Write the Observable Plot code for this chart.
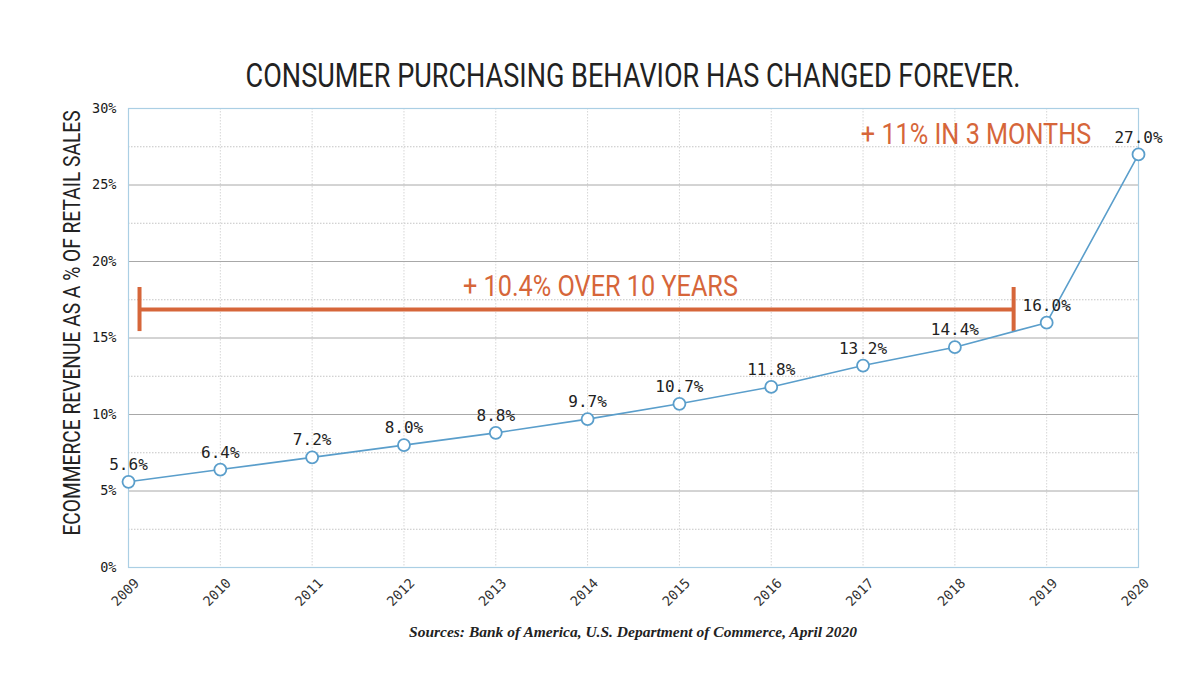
<!DOCTYPE html>
<html>
<head>
<meta charset="utf-8">
<script src="https://cdn.jsdelivr.net/npm/d3@7"></script>
<script src="https://cdn.jsdelivr.net/npm/@observablehq/plot@0.6"></script>
<style>
  html, body { margin: 0; padding: 0; background: #fff; }
  #page { position: relative; width: 1200px; height: 675px; overflow: hidden; }
  #title {
    position: absolute; left: 633px; top: 75px;
    transform: translate(-50%, -50%) scaleX(0.82);
    font-family: Roboto, "Noto Sans", sans-serif; font-size: 33px; color: #222;
    white-space: nowrap; letter-spacing: 0;
  }
  #chart { position: absolute; left: 0; top: 95px; }
  #chart svg { overflow: visible; }
  #caption {
    position: absolute; left: 633px; top: 632px;
    transform: translate(-50%, -50%);
    font-family: "Liberation Serif", "Times New Roman", serif; font-style: italic; font-weight: bold;
    font-size: 15.5px; color: #222; white-space: nowrap;
  }
</style>
</head>
<body>
<div id="page">
  <div id="title">CONSUMER PURCHASING BEHAVIOR HAS CHANGED FOREVER.</div>
  <div id="chart"></div>
  <div id="caption">Sources: Bank of America, U.S. Department of Commerce, April 2020</div>
</div>
<script>
// Ecommerce share of US retail sales, by year
const years = [2009, 2010, 2011, 2012, 2013, 2014, 2015, 2016, 2017, 2018, 2019, 2020];
const share = [5.6, 6.4, 7.2, 8.0, 8.8, 9.7, 10.7, 11.8, 13.2, 14.4, 16.0, 27.0];
const valueLabels = ["5.6%", "6.4%", "7.2%", "8.0%", "8.8%", "9.7%", "10.7%", "11.8%", "13.2%", "14.4%", "16.0%", "27.0%"];

// Axis ticks (percent)
const majorTicks = [0, 5, 10, 15, 20, 25, 30];
const minorTicks = [2.5, 7.5, 12.5, 17.5, 22.5, 27.5];

// Callouts: the ten-year bracket and the jump in 2020
const bracketSpan = [2009.12, 2018.64];   // years covered by the bracket
const bracketLevel = 16.86;               // percent level of the bracket bar
const bracketEnds = [15.42, 18.3];        // extent of the end caps
const calloutText = ["+ 10.4% OVER 10 YEARS", "+ 11% IN 3 MONTHS"];
const calloutYear = [2014.14, 2018.23];
const calloutPct = [18.37, 28.3];
const axisTitle = "ECOMMERCE REVENUE AS A % OF RETAIL SALES";

const data = years.map((year, i) => ({year, share: share[i], label: valueLabels[i]}));
const callouts = calloutText.map((text, i) => ({text, year: calloutYear[i], pct: calloutPct[i]}));

const orange = "#d6663a";
const blue = "#5a9ecb";
const mono = "'DejaVu Sans Mono', 'Liberation Mono', monospace";
const condensedFont = "Roboto, 'Noto Sans', sans-serif";

const chart = Plot.plot({
  width: 1200,
  height: 525,
  marginLeft: 128,
  marginRight: 62,
  marginTop: 13,
  marginBottom: 53,
  x: {domain: [2009, 2020], axis: null},
  y: {domain: [0, 30], axis: null},
  marks: [
    // light dotted gridlines
    Plot.ruleY(minorTicks, {stroke: "#c4c4c4", strokeDasharray: "1.5,1.5"}),
    Plot.ruleX(years, {stroke: "#d6d6d6", strokeDasharray: "1.5,1.5"}),
    // solid gridlines every 5%
    Plot.ruleY(majorTicks.filter(d => d > 0 && d < 30), {stroke: "#a8a8a8"}),
    Plot.frame({stroke: "#abcfe4", strokeWidth: 1.2}),
    // y tick labels
    Plot.axisY(majorTicks, {
      tickSize: 0, tickPadding: 12, tickFormat: d => d + "%", label: null,
      fontFamily: mono, fontSize: 13.5, fill: "#1a1a1a"
    }),
    // x tick labels, rotated
    Plot.text(years, {
      x: d => d, frameAnchor: "bottom", dy: 28, rotate: -45, text: d => String(d),
      fontFamily: mono, fontSize: 13.5, fill: "#333", textAnchor: "middle"
    }),
    // y axis title
    Plot.text([axisTitle], {
      frameAnchor: "left", textAnchor: "middle", rotate: -90, dx: -56, dy: -15, text: d => d,
      fontFamily: condensedFont, fontSize: 24, fill: "#222"
    }),
    // ten-year bracket
    Plot.ruleY([bracketLevel], {x1: bracketSpan[0], x2: bracketSpan[1], stroke: orange, strokeWidth: 4}),
    Plot.ruleX(bracketSpan, {y1: bracketEnds[0], y2: bracketEnds[1], stroke: orange, strokeWidth: 4}),
    Plot.text(callouts, {
      x: "year", y: "pct", text: "text",
      fontFamily: condensedFont, fontSize: 29, fill: orange
    }),
    // the series
    Plot.line(data, {x: "year", y: "share", stroke: blue, strokeWidth: 1.6}),
    Plot.dot(data, {x: "year", y: "share", r: 6, stroke: blue, fill: "white", strokeWidth: 1.8}),
    Plot.text(data, {
      x: "year", y: "share", text: "label", dy: -17,
      fontFamily: mono, fontSize: 16, fill: "#222"
    })
  ]
});

document.getElementById("chart").appendChild(chart);

// Narrow the display text (axis title and callouts) to a condensed width
const condenseFactor = new Map([[axisTitle, 0.8], ...calloutText.map(t => [t, 0.87])]);
d3.select(chart).selectAll("text").each(function () {
  const f = condenseFactor.get(this.textContent);
  if (!f) return;
  const w = this.getComputedTextLength();
  this.setAttribute("textLength", w * f);
  this.setAttribute("lengthAdjust", "spacingAndGlyphs");
});
</script>
</body>
</html>
